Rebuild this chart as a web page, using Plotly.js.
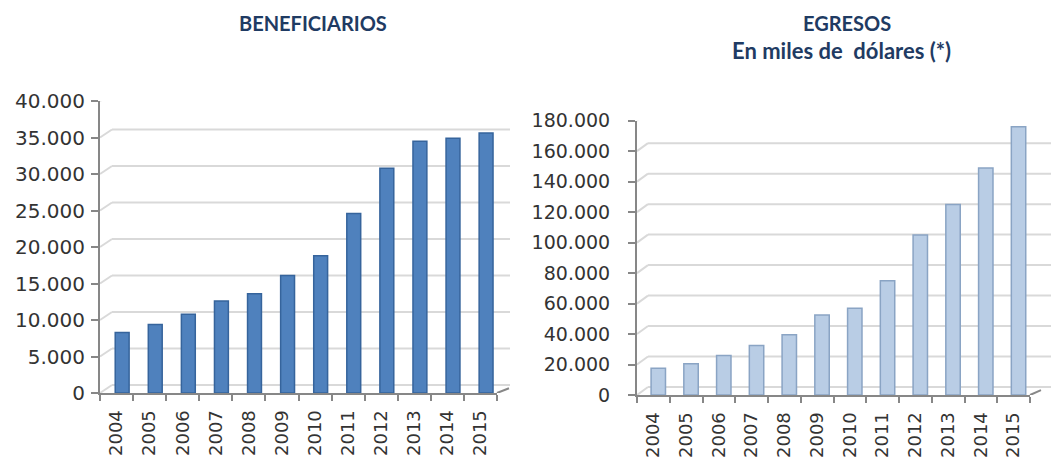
<!DOCTYPE html>
<html><head><meta charset="utf-8">
<script src="https://cdn.plot.ly/plotly-3.0.1.min.js"></script>
<style>html,body{margin:0;padding:0;background:#fff}#chart{width:1051px;height:458px}</style>
</head><body><div id="chart"></div>
<script>
const years = ['2004','2005','2006','2007','2008','2009','2010','2011','2012','2013','2014','2015'];
const beneficiarios = [8300, 9400, 10800, 12600, 13600, 16100, 18800, 24600, 30800, 34500, 34900, 35600];
const egresos = [17500, 20500, 26000, 32500, 39500, 52500, 57000, 75000, 105000, 125000, 149000, 176000];
const leftTicks = [0, 5000, 10000, 15000, 20000, 25000, 30000, 35000, 40000];
const rightTicks = [0, 20000, 40000, 60000, 80000, 100000, 120000, 140000, 160000, 180000];
const titleLeft = 'BENEFICIARIOS';
const titleRight = 'EGRESOS';
const subtitleRight = 'En miles de \u00a0dólares (*)';

const W = 1051, H = 458;
const axisGray = '#878787', gridGray = '#d9d9d9', textCol = '#333333', titleCol = '#1F3B63';

function gridShapes(xr, yr, ticks, dv, dxFrac, endFrac) {
  const s = [];
  ticks.forEach(v => {
    s.push({type:'line', xref:xr+' domain', yref:yr, x0:0, x1:dxFrac, y0:v, y1:v+dv, line:{color:gridGray, width:2}, layer:'below'});
    s.push({type:'line', xref:xr+' domain', yref:yr, x0:dxFrac, x1:endFrac, y0:v+dv, y1:v+dv, line:{color:gridGray, width:2}, layer:'below'});
  });
  s.push({type:'line', xref:xr+' domain', yref:yr, x0:1, x1:1+dxFrac, y0:0, y1:dv*0.6, line:{color:axisGray, width:2}, layer:'below'});
  return s;
}

const traces = [
  {type:'bar', x:years, y:beneficiarios, xaxis:'x', yaxis:'y', width:0.42, offset:-0.04,
   marker:{color:'#4F81BD', line:{color:'#36649C', width:1.5}}, hoverinfo:'x+y'},
  {type:'bar', x:years, y:egresos, xaxis:'x2', yaxis:'y2', width:0.44, offset:-0.07,
   marker:{color:'#B9CDE5', line:{color:'#8AA4C4', width:1.5}}, hoverinfo:'x+y'}
];

const tickFontL = {family:'DejaVu Sans', size:20, color:textCol};
const tickFontR = {family:'DejaVu Sans', size:19, color:textCol};
const xTickFont = {family:'DejaVu Sans', size:18, color:textCol};

const xCommon = {type:'category', showline:true, linecolor:axisGray, linewidth:2, ticks:'outside', tickson:'boundaries',
  ticklen:6, tickwidth:2, tickcolor:axisGray, tickangle:-90, showgrid:false, zeroline:false, fixedrange:true,
  tickfont:xTickFont, ticklabelstandoff:8};
const yCommon = {showline:true, linecolor:axisGray, linewidth:2, ticks:'outside', ticklen:7, tickwidth:2, tickcolor:axisGray,
  showgrid:false, zeroline:false, tickformat:',d', fixedrange:true};

const layout = {
  width:W, height:H, margin:{l:0, r:0, t:0, b:0}, paper_bgcolor:'#fff', plot_bgcolor:'rgba(0,0,0,0)',
  showlegend:false, separators:',.', bargap:0,
  xaxis: Object.assign({}, xCommon, {domain:[100/W, 497/W], anchor:'y'}),
  yaxis: Object.assign({}, yCommon, {domain:[65/H, 357/H], anchor:'x', range:[0, 40000], tickvals:leftTicks, tickfont:tickFontL, ticklabelstandoff:2}),
  xaxis2: Object.assign({}, xCommon, {domain:[637/W, 1030/W], anchor:'y2'}),
  yaxis2: Object.assign({}, yCommon, {domain:[63/H, 337.3/H], anchor:'x2', range:[0, 180000], tickvals:rightTicks, tickfont:tickFontR, ticklabelstandoff:14}),
  shapes: [].concat(
    gridShapes('x', 'y', leftTicks, 1096, 12/397, 410/397),
    gridShapes('x2', 'y2', rightTicks, 5250, 11/393, 414/393)
  ),
  annotations: [
    {text:'<b>'+titleLeft+'</b>', xref:'paper', yref:'paper', x:313/W, y:1-23/H, xanchor:'center', yanchor:'middle', showarrow:false,
     font:{family:'Lato', size:20, color:titleCol}},
    {text:'<b>'+titleRight+'</b>', xref:'paper', yref:'paper', x:847/W, y:1-23/H, xanchor:'center', yanchor:'middle', showarrow:false,
     font:{family:'Lato', size:20, color:titleCol}},
    {text:'<b>'+subtitleRight+'</b>', xref:'paper', yref:'paper', x:841/W, y:1-50/H, xanchor:'center', yanchor:'middle', showarrow:false,
     font:{family:'Lato', size:22, color:titleCol}}
  ]
};

Plotly.newPlot('chart', traces, layout, {displayModeBar:false, staticPlot:true});
</script>
</body></html>
